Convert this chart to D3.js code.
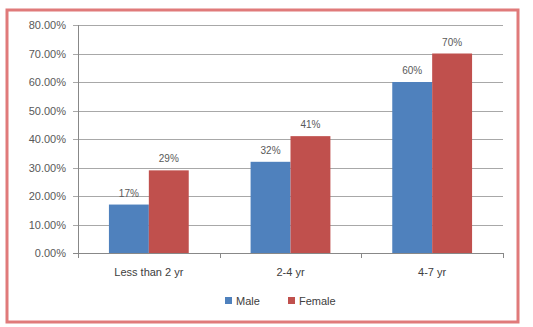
<!DOCTYPE html>
<html>
<head>
<meta charset="utf-8">
<script src="https://cdnjs.cloudflare.com/ajax/libs/d3/7.8.5/d3.min.js"></script>
<style>
  html, body { margin: 0; padding: 0; background: #fff; }
  svg { display: block; }
  text { font-family: "Liberation Sans", Arial, sans-serif; }
</style>
</head>
<body>
<svg id="chart" width="533" height="327"></svg>
<script>
// Age groups and share of respondents by gender
const categories = ["Less than 2 yr", "2-4 yr", "4-7 yr"];
const seriesNames = ["Male", "Female"];
const maleValues = [17, 32, 60];
const femaleValues = [29, 41, 70];
const yTicks = [0, 10, 20, 30, 40, 50, 60, 70, 80];
const colors = ["#4f81bd", "#c0504d"];

const svg = d3.select("#chart");

// Outer frame
svg.append("rect")
  .attr("x", 7).attr("y", 10).attr("width", 511).attr("height", 312)
  .attr("fill", "#fff").attr("stroke", "#e07a7a").attr("stroke-width", 3);

const plot = { left: 78, right: 503, top: 25, bottom: 253 };

const x = d3.scaleBand().domain(categories)
  .range([plot.left, plot.right]).paddingInner(0).paddingOuter(0);
const xInner = d3.scaleBand().domain(seriesNames)
  .range([0, x.bandwidth()]).paddingInner(0).paddingOuter(0.775);
const y = d3.scaleLinear().domain([0, 80]).range([plot.bottom, plot.top]);

// Horizontal gridlines with small ticks left of the axis
svg.append("g").selectAll("line").data(yTicks).join("line")
  .attr("x1", plot.left - 5).attr("x2", plot.right)
  .attr("y1", d => Math.round(y(d)) + 0.5).attr("y2", d => Math.round(y(d)) + 0.5)
  .attr("stroke", d => d === 0 ? "#888" : "#a8a8a8").attr("stroke-width", 1);

// Y axis labels
svg.append("g").selectAll("text").data(yTicks).join("text")
  .attr("x", plot.left - 12).attr("y", d => y(d) + 4)
  .attr("text-anchor", "end").attr("font-size", 11).attr("fill", "#595959")
  .text(d => d.toFixed(2) + "%");

// Y axis line
svg.append("line")
  .attr("x1", plot.left + 0.5).attr("x2", plot.left + 0.5)
  .attr("y1", plot.top).attr("y2", plot.bottom)
  .attr("stroke", "#888");

// Category tick marks on the x axis
const bounds = [plot.left, ...categories.map(c => x(c) + x.bandwidth())];
svg.append("g").selectAll("line").data(bounds).join("line")
  .attr("x1", d => Math.round(d) + 0.5).attr("x2", d => Math.round(d) + 0.5)
  .attr("y1", plot.bottom).attr("y2", plot.bottom + 5)
  .attr("stroke", "#888");

// Bars
const rows = categories.map((c, i) => ({ cat: c, vals: [maleValues[i], femaleValues[i]] }));
const groups = svg.append("g").selectAll("g").data(rows).join("g")
  .attr("transform", d => `translate(${x(d.cat)},0)`);

groups.selectAll("rect").data(d => d.vals.map((v, j) => ({ v, s: seriesNames[j], j })))
  .join("rect")
  .attr("x", d => xInner(d.s)).attr("width", xInner.bandwidth())
  .attr("y", d => y(d.v)).attr("height", d => y(0) - y(d.v))
  .attr("fill", d => colors[d.j]);

groups.selectAll("text").data(d => d.vals.map((v, j) => ({ v, s: seriesNames[j], j })))
  .join("text")
  .attr("x", d => xInner(d.s) + xInner.bandwidth() / 2)
  .attr("y", d => y(d.v) - 8)
  .attr("text-anchor", "middle").attr("font-size", 10).attr("fill", "#595959")
  .text(d => d.v + "%");

// Category labels
svg.append("g").selectAll("text").data(categories).join("text")
  .attr("x", d => x(d) + x.bandwidth() / 2).attr("y", 276)
  .attr("text-anchor", "middle").attr("font-size", 11).attr("fill", "#404040")
  .text(d => d);

// Legend
const legendX = [225, 288];
const legend = svg.append("g").selectAll("g").data(seriesNames).join("g")
  .attr("transform", (d, i) => `translate(${legendX[i]},297)`);
legend.append("rect").attr("width", 7).attr("height", 7).attr("fill", (d, i) => colors[i]);
legend.append("text").attr("x", 11).attr("y", 8)
  .attr("font-size", 11).attr("fill", "#404040").text(d => d);
</script>
</body>
</html>
